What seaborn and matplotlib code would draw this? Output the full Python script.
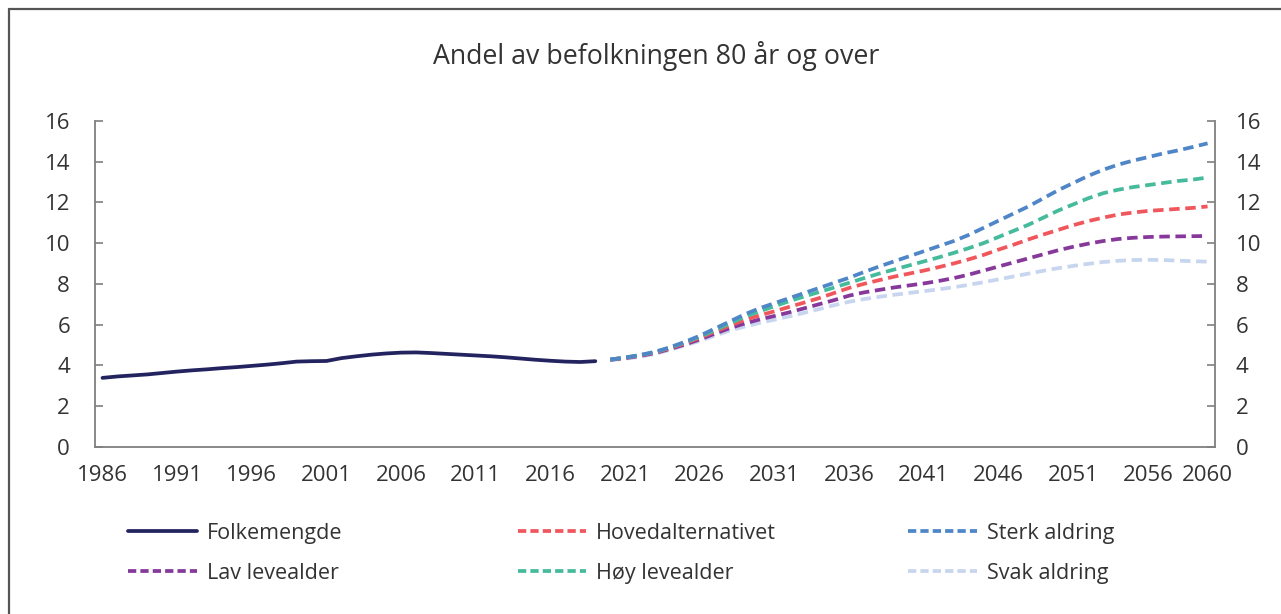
import matplotlib
matplotlib.use("Agg")
import matplotlib.pyplot as plt
from matplotlib.lines import Line2D
import seaborn as sns
import pandas as pd

sns.set_theme(style="white")
plt.rcParams['font.family'] = ['Open Sans', 'DejaVu Sans']

title = "Andel av befolkningen 80 år og over"

hist_years = list(range(1986, 2020))
folkemengde = [3.38, 3.45, 3.50, 3.55, 3.62, 3.69, 3.75, 3.80, 3.86, 3.91,
               3.97, 4.03, 4.10, 4.18, 4.20, 4.21, 4.35, 4.44, 4.52, 4.58,
               4.62, 4.63, 4.60, 4.56, 4.52, 4.48, 4.44, 4.39, 4.33, 4.27,
               4.22, 4.18, 4.16, 4.20]

proj_years = list(range(2020, 2061))
sterk = [4.28, 4.38, 4.50, 4.66, 4.88, 5.15, 5.45, 5.80, 6.15, 6.50,
         6.80, 7.05, 7.30, 7.55, 7.80, 8.05, 8.30, 8.58, 8.85, 9.10,
         9.35, 9.60, 9.85, 10.10, 10.40, 10.75, 11.10, 11.45, 11.80, 12.20,
         12.60, 12.95, 13.30, 13.60, 13.85, 14.05, 14.22, 14.40, 14.55, 14.72,
         14.90]
hoy = [4.28, 4.38, 4.50, 4.65, 4.87, 5.12, 5.40, 5.72, 6.05, 6.38,
       6.65, 6.90, 7.15, 7.38, 7.60, 7.82, 8.05, 8.28, 8.50, 8.70,
       8.90, 9.10, 9.30, 9.52, 9.75, 10.00, 10.30, 10.60, 10.90, 11.25,
       11.60, 11.90, 12.20, 12.45, 12.62, 12.75, 12.85, 12.95, 13.05, 13.12,
       13.22]
hoved = [4.28, 4.37, 4.48, 4.63, 4.84, 5.08, 5.35, 5.65, 5.95, 6.22,
         6.45, 6.65, 6.87, 7.08, 7.30, 7.55, 7.80, 8.00, 8.18, 8.35,
         8.50, 8.65, 8.82, 9.00, 9.20, 9.42, 9.68, 9.92, 10.18, 10.42,
         10.65, 10.88, 11.08, 11.25, 11.40, 11.50, 11.58, 11.63, 11.68, 11.73,
         11.80]
lav = [4.27, 4.35, 4.46, 4.60, 4.80, 5.02, 5.27, 5.55, 5.82, 6.05,
       6.25, 6.42, 6.60, 6.80, 7.00, 7.20, 7.42, 7.58, 7.70, 7.82,
       7.92, 8.02, 8.14, 8.28, 8.45, 8.65, 8.85, 9.05, 9.25, 9.45,
       9.65, 9.82, 9.97, 10.10, 10.20, 10.26, 10.30, 10.32, 10.33, 10.34,
       10.35]
svak = [4.25, 4.32, 4.42, 4.56, 4.75, 4.97, 5.20, 5.45, 5.70, 5.90,
        6.08, 6.24, 6.40, 6.58, 6.76, 6.95, 7.12, 7.25, 7.36, 7.46,
        7.55, 7.64, 7.73, 7.83, 7.95, 8.08, 8.22, 8.36, 8.50, 8.64,
        8.77, 8.88, 8.98, 9.07, 9.13, 9.17, 9.18, 9.17, 9.14, 9.11,
        9.09]

xtick_labels = [1986, 1991, 1996, 2001, 2006, 2011, 2016, 2021, 2026, 2031,
                2036, 2041, 2046, 2051, 2056, 2060]
ytick_labels = [0, 2, 4, 6, 8, 10, 12, 14, 16]

colors = {
    "Folkemengde": "#23235f",
    "Hovedalternativet": "#f0575c",
    "Sterk aldring": "#4f86c8",
    "Lav levealder": "#86399a",
    "Høy levealder": "#46bb9c",
    "Svak aldring": "#c7d5ee",
}

rows = []
for y, v in zip(hist_years, folkemengde):
    rows.append(("Folkemengde", y, v))
proj = {"Svak aldring": svak, "Lav levealder": lav, "Hovedalternativet": hoved,
        "Høy levealder": hoy, "Sterk aldring": sterk}
for name, vals in proj.items():
    for y, v in zip(proj_years, vals):
        rows.append((name, y, v))
df = pd.DataFrame(rows, columns=["serie", "year", "value"])

fig = plt.figure(figsize=(12.81, 6.14), dpi=100)
ax = fig.add_axes([0.0742, 0.2725, 0.8743, 0.5305])

lw = 2.7
dash = (2.8, 1.5)
order = ["Folkemengde", "Svak aldring", "Lav levealder", "Hovedalternativet",
         "Høy levealder", "Sterk aldring"]
for name in order:
    sub = df[df.serie == name]
    sns.lineplot(data=sub, x="year", y="value", ax=ax, color=colors[name],
                 linewidth=lw, legend=False,
                 linestyle="-" if name == "Folkemengde" else "--")
for line in ax.get_lines()[1:]:
    line.set_dashes(dash)
    line.set_dash_capstyle("butt")

ax.set_xlim(1985.5, 2060.5)
ax.set_ylim(0, 16)
ax.set_xticks(xtick_labels)
ax.set_xticklabels([str(t) for t in xtick_labels])
ax.set_yticks(ytick_labels)
ax.set_xlabel("")
ax.set_ylabel("")

ax2 = ax.twinx()
ax2.set_ylim(0, 16)
ax2.set_yticks(ytick_labels)

spine_c = "#7f7f7f"
text_c = "#333333"
for a in (ax, ax2):
    for s in a.spines.values():
        s.set_visible(False)
ax.spines["left"].set_visible(True)
ax.spines["bottom"].set_visible(True)
ax2.spines["right"].set_visible(True)
for s in (ax.spines["left"], ax.spines["bottom"], ax2.spines["right"]):
    s.set_color(spine_c)
    s.set_linewidth(1.3)

ax.tick_params(axis="y", direction="in", length=6, width=1.2, color=spine_c,
               labelsize=16, labelcolor=text_c, pad=18, left=True)
ax.tick_params(axis="x", length=0, labelsize=16, labelcolor=text_c, pad=13)
ax2.tick_params(axis="y", direction="in", length=6, width=1.2, color=spine_c,
                labelsize=16, labelcolor=text_c, pad=15, right=True)

fig.text(0.512, 0.909, title, ha="center", va="center", fontsize=19.3,
         color=text_c)

# legend: three columns, two rows
cols = [["Folkemengde", "Lav levealder"],
        ["Hovedalternativet", "Høy levealder"],
        ["Sterk aldring", "Svak aldring"]]
xpos = [0.100, 0.404, 0.709]
for names, x in zip(cols, xpos):
    handles = []
    for n in names:
        if n == "Folkemengde":
            h = Line2D([], [], color=colors[n], lw=lw, linestyle="-")
        else:
            h = Line2D([], [], color=colors[n], lw=lw, linestyle="--",
                       dashes=(2.2, 1.1))
        handles.append(h)
    leg = fig.legend(handles, names, loc="upper left",
                     bbox_to_anchor=(x, 0.149), frameon=False, fontsize=15.5,
                     handlelength=3.2, handletextpad=0.45, labelspacing=0.9,
                     borderaxespad=0, borderpad=0)
    for t in leg.get_texts():
        t.set_color(text_c)

# outer frame lines (top and left)
fig.add_artist(Line2D([0.0072, 1.0], [0.985, 0.985], color="#555555",
                      lw=1.6, transform=fig.transFigure))
fig.add_artist(Line2D([0.0072, 0.0072], [0.0, 0.985], color="#555555",
                      lw=1.6, transform=fig.transFigure))

fig.savefig("out.png", dpi=100)
